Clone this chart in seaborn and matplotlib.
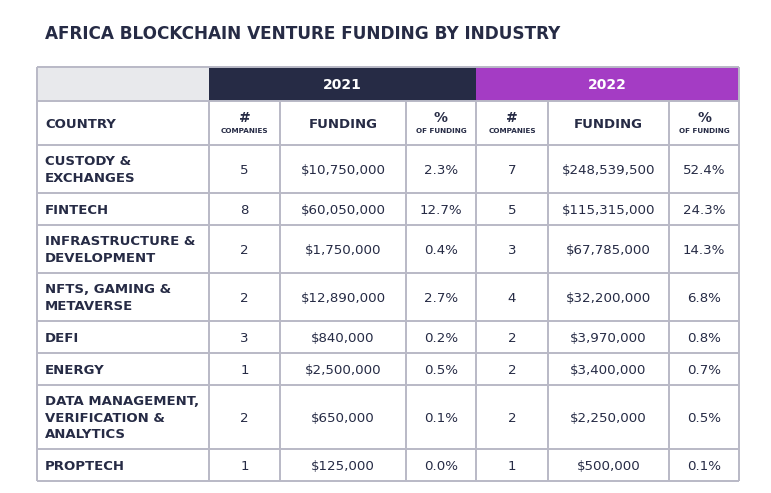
import numpy as np
import pandas as pd
import seaborn as sns
import matplotlib.pyplot as plt
from matplotlib.patches import Rectangle

# table data
industries = ["CUSTODY &\nEXCHANGES", "FINTECH", "INFRASTRUCTURE &\nDEVELOPMENT",
              "NFTS, GAMING &\nMETAVERSE", "DEFI", "ENERGY",
              "DATA MANAGEMENT,\nVERIFICATION &\nANALYTICS", "PROPTECH"]
years = ["2021", "2022"]
companies_2021 = [5, 8, 2, 2, 3, 1, 2, 1]
funding_2021 = [10750000, 60050000, 1750000, 12890000, 840000, 2500000, 650000, 125000]
share_2021 = [2.3, 12.7, 0.4, 2.7, 0.2, 0.5, 0.1, 0.0]
companies_2022 = [7, 5, 3, 4, 2, 2, 2, 1]
funding_2022 = [248539500, 115315000, 67785000, 32200000, 3970000, 3400000, 2250000, 500000]
share_2022 = [52.4, 24.3, 14.3, 6.8, 0.8, 0.7, 0.5, 0.1]

df = pd.DataFrame({
    "industry": industries,
    "c21": companies_2021, "f21": funding_2021, "s21": share_2021,
    "c22": companies_2022, "f22": funding_2022, "s22": share_2022,
})

sns.set_theme(style="white")
plt.rcParams['font.family'] = ['DejaVu Sans']

navy = "#262b45"
purple = "#a43cc4"
grey_bg = "#e8e9ec"
line_c = "#b9b9c6"

fig = plt.figure(figsize=(7.71, 4.93), dpi=100)
ax = fig.add_axes([0, 0, 1, 1])
ax.set_xlim(0, 771)
ax.set_ylim(493, 0)
ax.axis("off")

# layout (pixels)
col_edges = [37, 209, 280, 406, 476, 548, 669, 739]
top = 67
h1, h2 = 101, 145
n_lines = [s.count("\n") + 1 for s in industries]
row_h = [32 + 16 * (n - 1) for n in n_lines]
row_edges = h2 + np.concatenate([[0], np.cumsum(row_h)])

ax.text(45, 34, "AFRICA BLOCKCHAIN VENTURE FUNDING BY INDUSTRY", fontsize=12.15,
        fontweight="bold", color=navy, va="center", ha="left")

# header row 1 backgrounds
ax.add_patch(Rectangle((col_edges[0], top), col_edges[1] - col_edges[0], h1 - top,
                       facecolor=grey_bg, edgecolor="none"))
for i, (yr, c) in enumerate(zip(years, [navy, purple])):
    x0, x1 = col_edges[1 + 3 * i], col_edges[4 + 3 * i]
    ax.add_patch(Rectangle((x0, top), x1 - x0, h1 - top, facecolor=c, edgecolor="none"))
    ax.text((x0 + x1) / 2, (top + h1) / 2 + 1, yr, color="white", fontsize=10,
            fontweight="bold", ha="center", va="center")

# header row 2
mid2 = (h1 + h2) / 2
ax.text(45, mid2 + 1, "COUNTRY", fontsize=9.5, fontweight="bold", color=navy, va="center")
for i in range(2):
    base = 1 + 3 * i
    cx = [(col_edges[base + k] + col_edges[base + k + 1]) / 2 for k in range(3)]
    ax.text(cx[0], mid2 - 5, "#", fontsize=10, fontweight="bold", color=navy, ha="center", va="center")
    ax.text(cx[0], mid2 + 8, "COMPANIES", fontsize=5.2, fontweight="bold", color=navy, ha="center", va="center")
    ax.text(cx[1], mid2 + 1, "FUNDING", fontsize=9.5, fontweight="bold", color=navy, ha="center", va="center")
    ax.text(cx[2], mid2 - 5, "%", fontsize=10, fontweight="bold", color=navy, ha="center", va="center")
    ax.text(cx[2], mid2 + 8, "OF FUNDING", fontsize=5.2, fontweight="bold", color=navy, ha="center", va="center")

# body rows
cx_all = [(col_edges[k] + col_edges[k + 1]) / 2 for k in range(1, 7)]
for r, row in df.iterrows():
    ym = (row_edges[r] + row_edges[r + 1]) / 2 + 1
    ax.text(45, ym, row["industry"], fontsize=9.5, fontweight="bold", color=navy,
            va="center", ha="left", linespacing=1.35)
    vals = [f"{row['c21']}", f"${row['f21']:,}", f"{row['s21']:.1f}%",
            f"{row['c22']}", f"${row['f22']:,}", f"{row['s22']:.1f}%"]
    for x, v in zip(cx_all, vals):
        ax.text(x, ym, v, fontsize=9.6, color=navy, ha="center", va="center")

# grid lines
lw = 1.4
ax.hlines([top, h1, h2], col_edges[0], col_edges[-1], color=line_c, lw=lw)
ax.hlines(row_edges[1:], col_edges[0], col_edges[-1], color=line_c, lw=lw)
ax.vlines([col_edges[0], col_edges[-1]], top, row_edges[-1], color=line_c, lw=lw)
ax.vlines(col_edges[1:-1], h1, row_edges[-1], color=line_c, lw=lw)

fig.savefig("out.png", dpi=100, facecolor="white")
